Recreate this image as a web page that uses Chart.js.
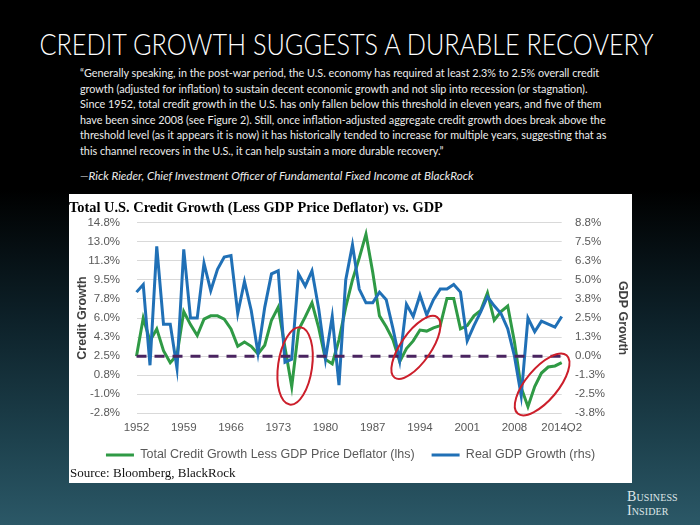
<!DOCTYPE html>
<html>
<head>
<meta charset="utf-8">
<script src="https://cdn.jsdelivr.net/npm/chart.js@4.4.1/dist/chart.umd.min.js"></script>
<style>
html,body{margin:0;padding:0;}
body{width:700px;height:525px;overflow:hidden;position:relative;
  background:linear-gradient(to bottom,#000 0px,#000 190px,#0d2129 320px,#1d414d 440px,#2b5867 525px);
  font-family:Lato,"Open Sans",sans-serif;}
#title{position:absolute;left:-6px;top:27px;width:700px;text-align:center;color:#fff;font-size:29px;line-height:34px;white-space:nowrap;font-weight:300;}
#title span{display:inline-block;transform-origin:center;}
#quote{position:absolute;left:80px;top:65px;color:#ececec;font-size:12px;line-height:15.6px;white-space:pre;}
#attr{position:absolute;left:80px;top:169px;color:#ececec;font-size:12px;font-style:italic;white-space:pre;}
#panel{position:absolute;left:69px;top:194px;width:563px;height:289px;background:#fff;}
#chart{position:absolute;left:69px;top:194px;}
#source{position:absolute;left:70px;top:465px;font-family:"Liberation Serif",serif;font-size:13px;color:#111;white-space:nowrap;}
#bi{position:absolute;left:627px;top:490px;font-family:"Liberation Serif",serif;font-variant:small-caps;font-size:14px;line-height:14px;color:#dfe6e8;letter-spacing:0.1px;}
</style>
</head>
<body>
<div id="title"><span id="titleText">CREDIT GROWTH SUGGESTS A DURABLE RECOVERY</span></div>
<div id="quote">“Generally speaking, in the post-war period, the U.S. economy has required at least 2.3% to 2.5% overall credit
growth (adjusted for inflation) to sustain decent economic growth and not slip into recession (or stagnation).
Since 1952, total credit growth in the U.S. has only fallen below this threshold in eleven years, and five of them
have been since 2008 (see Figure 2). Still, once inflation-adjusted aggregate credit growth does break above the
threshold level (as it appears it is now) it has historically tended to increase for multiple years, suggesting that as
this channel recovers in the U.S., it can help sustain a more durable recovery.”</div>
<div id="attr">—Rick Rieder, Chief Investment Officer of Fundamental Fixed Income at BlackRock</div>
<div id="panel"></div>
<canvas id="chart" width="563" height="289"></canvas>
<div id="source">Source: Bloomberg, BlackRock</div>
<div id="bi">Business<br>Insider</div>
<script>
// ---- data ----
const years = ["1952","1953","1954","1955","1956","1957","1958","1959","1960","1961",
"1962","1963","1964","1965","1966","1967","1968","1969","1970","1971",
"1972","1973","1974","1975","1976","1977","1978","1979","1980","1981",
"1982","1983","1984","1985","1986","1987","1988","1989","1990","1991",
"1992","1993","1994","1995","1996","1997","1998","1999","2000","2001",
"2002","2003","2004","2005","2006","2007","2008","2009","2010","2011",
"2012","2013","2014Q1","2014Q2"];

const creditGrowth = [2.5,6.0,3.9,5.0,3.0,1.9,2.6,6.6,5.4,4.4,
5.9,6.2,6.2,5.9,5.0,3.4,3.8,3.4,2.7,3.5,
5.8,7.0,3.3,-0.3,4.9,6.1,7.4,5.1,2.2,1.8,
4.0,7.0,9.5,11.5,13.7,10.2,6.2,5.2,4.0,2.0,
3.2,3.9,4.9,4.8,5.1,5.3,7.8,7.8,5.0,5.3,
6.2,6.7,8.3,5.8,6.6,7.1,3.8,-0.4,-2.15,-0.3,
0.95,1.5,1.6,1.9];

const gdpGrowth = [4.2,4.7,-0.6,7.2,2.1,2.1,-0.8,7.0,2.5,2.5,
6.1,4.3,5.7,6.5,6.6,2.8,4.9,3.0,0.2,3.2,
5.4,5.6,-0.4,-0.2,5.4,4.6,5.6,3.1,-0.2,2.6,
-1.9,5.0,7.3,4.4,3.5,3.5,4.2,3.7,1.8,-0.3,
3.4,2.6,4.0,2.7,3.7,4.4,4.4,4.7,4.2,1.0,
2.0,2.9,3.9,3.3,2.8,1.8,0.0,-2.6,2.5,1.6,
2.3,2.1,1.9,2.6];

const thresholdLevel = 2.5;

const leftTicks = [-2.75,-1.0,0.75,2.5,4.25,6.0,7.75,9.5,11.25,13.0,14.75];
const rightTicks = [-3.75,-2.5,-1.25,0.0,1.25,2.5,3.75,5.0,6.25,7.5,8.75];

const seriesNames = ["Total Credit Growth Less GDP Price Deflator (lhs)","Real GDP Growth (rhs)"];
const chartTitle = "Total U.S. Credit Growth (Less GDP Price Deflator) vs. GDP";

// hand-drawn red circles (centre as category index / lhs value)
const highlightRings = [
  {at: 23.5, val: 1.6,  rx: 17, ry: 39, rot: 8},
  {at: 41.4, val: 3.3,  rx: 37, ry: 15, rot: -55},
  {at: 60.1, val: -0.1, rx: 38, ry: 16, rot: -50}
];

// ---- layout fitting of the html text ----
function fitScale(el, target){
  el.style.transform='none';
  const w = el.getBoundingClientRect().width;
  el.style.transform = 'scaleX(' + (target/w) + ')';
}
function fitFont(el, target){
  const w = el.getBoundingClientRect().width;
  const fs = parseFloat(getComputedStyle(el).fontSize);
  el.style.fontSize = (fs*target/w) + 'px';
}
const ringPlugin = {
  id:'rings',
  afterDatasetsDraw(chart){
    const ctx = chart.ctx, xs = chart.scales.x, ys = chart.scales.y;
    ctx.save();
    ctx.strokeStyle = '#cc1f2b';
    ctx.lineWidth = 2;
    highlightRings.forEach(r=>{
      const cx = xs.getPixelForValue(r.at), cy = ys.getPixelForValue(r.val);
      ctx.beginPath();
      ctx.ellipse(cx, cy, r.rx, r.ry, r.rot*Math.PI/180, 0, Math.PI*2);
      ctx.stroke();
    });
    ctx.restore();
  }
};

function build(){
  fitScale(document.getElementById('titleText'), 614);
  fitFont(document.getElementById('quote'), 527);
  fitFont(document.getElementById('attr'), 394);

  const tickFont = {family:'"Liberation Sans", Arial, sans-serif', size:11.5};
  new Chart(document.getElementById('chart'), {
    type:'line',
    data:{
      labels: years,
      datasets:[
        {label:seriesNames[0], data:creditGrowth, yAxisID:'y', borderColor:'#2f9a45', backgroundColor:'#2f9a45', borderWidth:3, pointRadius:0, tension:0, order:2},
        {label:seriesNames[1], data:gdpGrowth, yAxisID:'y1', borderColor:'#2070b6', backgroundColor:'#2070b6', borderWidth:3, pointRadius:0, tension:0, order:1},
        {label:'threshold', data:years.map(()=>thresholdLevel), yAxisID:'y', borderColor:'#4a2460', borderWidth:3, borderDash:[10,8], pointRadius:0, tension:0, order:0}
      ]
    },
    options:{
      responsive:false, animation:false, devicePixelRatio:1,
      layout:{padding:{left:0,right:0,top:0,bottom:11.75}},
      plugins:{
        title:{display:true, text:chartTitle, align:'start', color:'#000',
          font:{family:'"Liberation Serif", serif', size:14.4, weight:'bold'}, padding:{top:5.6,bottom:5.9}},
        legend:{position:'bottom',
          labels:{usePointStyle:true, pointStyle:'line', pointStyleWidth:28, padding:17, color:'#595959',
            font:{family:'"Liberation Sans", Arial, sans-serif', size:12.5},
            filter:(it)=>it.datasetIndex<2,
            sort:(a,b)=>a.datasetIndex-b.datasetIndex}},
        tooltip:{enabled:false}
      },
      scales:{
        x:{type:'category', grid:{display:false, drawTicks:false}, border:{display:false},
          ticks:{autoSkip:false, maxRotation:0, minRotation:0, padding:8, color:'#595959', font:tickFont,
            callback:function(v,i){ return i%7===0 ? this.getLabelForValue(v) : ''; }},
          afterFit:(s)=>{ s.height = 18.45; }},
        y:{position:'left', min:leftTicks[0], max:leftTicks[leftTicks.length-1],
          afterBuildTicks:(s)=>{ s.ticks = leftTicks.map(v=>({value:v})); },
          ticks:{padding:16.5, color:'#595959', font:tickFont, callback:(v)=>v.toFixed(1)+'%'},
          grid:{color:'#d9d9d9', lineWidth:1, drawTicks:false}, border:{display:false},
          title:{display:true, text:'Credit Growth', color:'#404040', padding:{top:6.5,bottom:0},
            font:{family:'"Liberation Sans", Arial, sans-serif', size:12.5, weight:'bold'}},
          afterFit:(s)=>{ s.width = 67.5; }},
        y1:{position:'right', min:rightTicks[0], max:rightTicks[rightTicks.length-1],
          afterBuildTicks:(s)=>{ s.ticks = rightTicks.map(v=>({value:v})); },
          ticks:{padding:13.3, color:'#595959', font:tickFont, callback:(v)=>v.toFixed(1)+'%'},
          grid:{display:false, drawTicks:false}, border:{display:false},
          title:{display:true, text:'GDP Growth', color:'#404040', padding:{top:2.5,bottom:0},
            font:{family:'"Liberation Sans", Arial, sans-serif', size:12.5, weight:'bold'}},
          afterFit:(s)=>{ s.width = 70.3; }}
      }
    },
    plugins:[ringPlugin]
  });
}
if (document.fonts && document.fonts.ready) { document.fonts.ready.then(build); } else { build(); }
</script>
</body>
</html>
